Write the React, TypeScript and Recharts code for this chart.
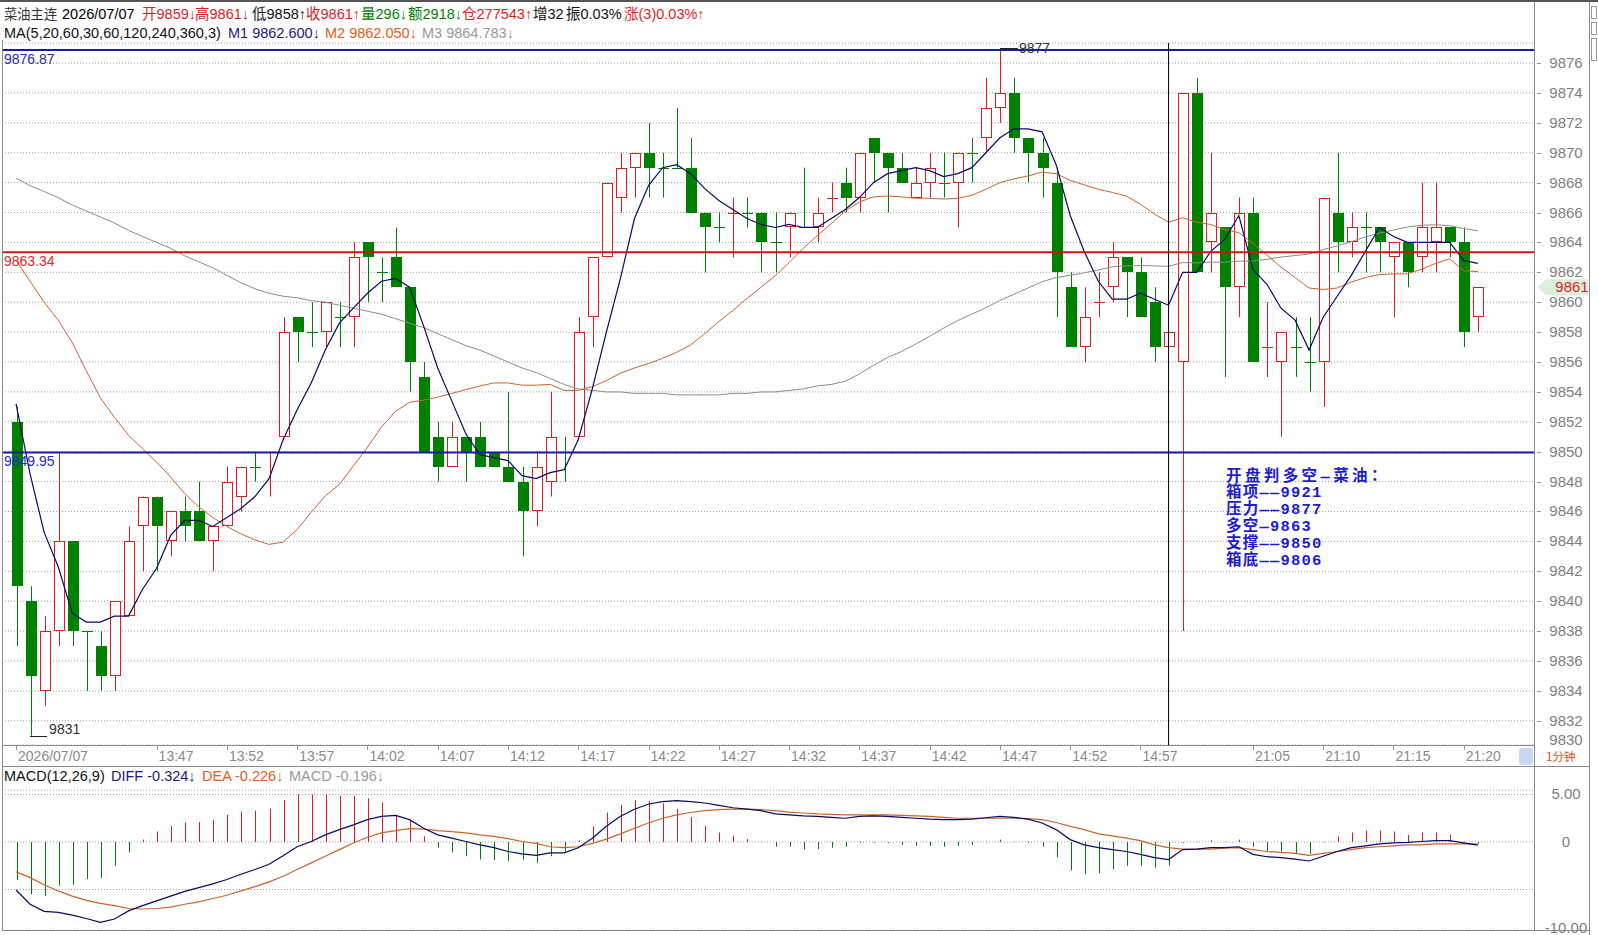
import React from 'react';
import {
  ComposedChart,
  Bar,
  Line,
  XAxis,
  YAxis,
  CartesianGrid,
  ReferenceLine,
  ReferenceDot,
} from 'recharts';

// ---------------- data ----------------
const times = [
  '13:37','13:38','13:39','13:40','13:41','13:42','13:43','13:44','13:45','13:46',
  '13:47','13:48','13:49','13:50','13:51','13:52','13:53','13:54','13:55','13:56',
  '13:57','13:58','13:59','14:00','14:01','14:02','14:03','14:04','14:05','14:06',
  '14:07','14:08','14:09','14:10','14:11','14:12','14:13','14:14','14:15','14:16',
  '14:17','14:18','14:19','14:20','14:21','14:22','14:23','14:24','14:25','14:26',
  '14:27','14:28','14:29','14:30','14:31','14:32','14:33','14:34','14:35','14:36',
  '14:37','14:38','14:39','14:40','14:41','14:42','14:43','14:44','14:45','14:46',
  '14:47','14:48','14:49','14:50','14:51','14:52','14:53','14:54','14:55','14:56',
  '14:57','14:58','14:59','15:00','21:01','21:02','21:03','21:04','21:05','21:06',
  '21:07','21:08','21:09','21:10','21:11','21:12','21:13','21:14','21:15','21:16',
  '21:17','21:18','21:19','21:20','21:21',
];

const opens = [
  9852,9840,9834,9838,9844,9838,9837,9835,9839,9845,
  9847,9844,9846,9846,9844,9845,9847,9849,9850,9851,
  9859,9858,9858,9859,9859,9864,9862,9863,9861,9855,
  9851,9849,9851,9851,9850,9849,9848,9846,9848,9850,
  9851,9859,9863,9867,9869,9870,9869,9869,9869,9866,
  9865,9866,9866,9866,9864,9865,9865,9865,9867,9868,
  9867,9871,9870,9869,9867,9868,9868,9868,9870,9871,
  9873,9874,9871,9870,9868,9861,9857,9860,9861,9863,
  9862,9860,9857,9856,9874,9864,9865,9861,9866,9857,
  9856,9857,9856,9856,9866,9864,9865,9865,9863,9864,
  9863,9864,9865,9864,9859,
];
const highs = [
  9853,9841,9839,9850,9844,9838,9838,9840,9845,9847,
  9847,9846,9847,9848,9845,9849,9849,9850,9850,9859,
  9859,9860,9860,9860,9864,9864,9863,9865,9861,9856,
  9852,9852,9851,9852,9850,9854,9849,9850,9854,9851,
  9859,9863,9868,9870,9870,9872,9870,9873,9871,9866,
  9866,9867,9867,9866,9866,9866,9869,9867,9868,9869,
  9870,9871,9870,9870,9869,9870,9870,9870,9871,9875,
  9877,9875,9871,9871,9869,9862,9861,9862,9864,9863,
  9863,9861,9858,9874,9875,9870,9865,9867,9867,9860,
  9858,9859,9859,9867,9870,9866,9866,9865,9864,9864,
  9868,9868,9865,9865,9861,
];
const lows = [
  9837,9831,9833,9837,9837,9834,9834,9834,9839,9842,
  9842,9843,9844,9844,9842,9845,9846,9848,9847,9851,
  9856,9857,9857,9857,9857,9860,9860,9861,9854,9850,
  9848,9849,9848,9849,9849,9848,9843,9845,9847,9848,
  9851,9857,9863,9866,9867,9867,9867,9869,9866,9862,
  9864,9863,9865,9862,9862,9863,9865,9864,9866,9866,
  9866,9868,9866,9868,9867,9867,9867,9865,9868,9870,
  9872,9870,9868,9867,9859,9857,9856,9859,9860,9859,
  9859,9856,9857,9838,9862,9862,9855,9859,9856,9855,
  9851,9855,9854,9853,9862,9863,9862,9862,9859,9861,
  9862,9862,9863,9857,9858,
];
const closes = [
  9841,9835,9838,9844,9838,9838,9835,9840,9844,9847,
  9845,9846,9845,9844,9845,9848,9849,9849,9850,9858,
  9858,9858,9860,9859,9863,9863,9862,9861,9856,9850,
  9849,9851,9850,9849,9849,9848,9846,9849,9851,9850,
  9858,9863,9868,9869,9870,9869,9869,9869,9866,9865,
  9865,9866,9866,9864,9864,9866,9865,9866,9867,9867,
  9870,9870,9869,9868,9868,9869,9868,9870,9870,9873,
  9874,9871,9870,9869,9862,9857,9859,9860,9863,9862,
  9859,9857,9858,9874,9862,9866,9861,9866,9856,9857,
  9858,9857,9856,9867,9864,9865,9865,9864,9864,9862,
  9865,9865,9864,9858,9861,
];

// M1 (MA5), M2 (MA20), M3 (MA60)
const ma5 = [
  9853.2,9848.5,9844.6,9842.3,9839.2,9838.6,9838.6,9839.0,9839.0,9840.8,
  9842.2,9844.4,9845.4,9845.4,9845.0,9845.6,9846.2,9847.0,9848.2,9850.8,
  9852.8,9854.6,9856.8,9858.6,9859.6,9860.6,9861.4,9861.6,9861.0,9858.4,
  9855.6,9853.4,9851.2,9849.8,9849.6,9849.4,9848.4,9848.2,9848.6,9848.8,
  9850.8,9854.2,9858.0,9861.6,9865.6,9867.8,9869.0,9869.2,9868.6,9867.6,
  9866.8,9866.2,9865.6,9865.2,9865.0,9865.2,9865.0,9865.0,9865.6,9866.2,
  9867.0,9868.0,9868.6,9868.8,9869.0,9868.8,9868.4,9868.6,9869.0,9870.0,
  9871.0,9871.6,9871.6,9871.4,9869.2,9865.8,9863.4,9861.4,9860.2,9860.2,
  9860.6,9860.2,9859.8,9862.0,9862.0,9863.4,9864.2,9865.8,9862.2,9861.2,
  9859.6,9858.8,9856.8,9859.0,9860.4,9861.8,9863.4,9865.0,9864.4,9864.0,
  9864.0,9864.0,9864.0,9862.8,9862.6,
];
const ma20 = [
  9862.8,9861.4,9860.0,9858.8,9857.3,9855.4,9853.6,9852.3,9851.1,9850.2,
  9849.3,9848.3,9847.2,9846.3,9845.6,9845.0,9844.5,9844.1,9843.8,9843.95,
  9844.8,9845.95,9847.05,9847.8,9849.05,9850.3,9851.65,9852.7,9853.3,9853.45,
  9853.65,9853.9,9854.15,9854.4,9854.6,9854.6,9854.45,9854.45,9854.5,9854.1,
  9854.1,9854.35,9854.75,9855.25,9855.6,9855.9,9856.25,9856.65,9857.15,9857.9,
  9858.7,9859.45,9860.25,9861.0,9861.75,9862.65,9863.6,9864.45,9865.25,9866.1,
  9866.7,9867.05,9867.1,9867.05,9866.95,9866.95,9866.9,9866.95,9867.15,9867.55,
  9868.0,9868.25,9868.45,9868.7,9868.6,9868.15,9867.85,9867.55,9867.35,9867.1,
  9866.55,9865.9,9865.35,9865.65,9865.35,9865.2,9864.85,9864.65,9863.95,9863.15,
  9862.35,9861.65,9860.95,9860.85,9860.95,9861.35,9861.65,9861.85,9861.9,9861.9,
  9862.2,9862.6,9862.9,9862.1,9862.05,
];
const ma60 = [
  9868.3,9867.8,9867.4,9867.0,9866.5,9866.1,9865.7,9865.3,9864.8,9864.4,
  9864.0,9863.6,9863.1,9862.7,9862.3,9861.8,9861.3,9860.9,9860.6,9860.4,
  9860.3,9860.1,9860.0,9859.8,9859.6,9859.4,9859.2,9858.9,9858.6,9858.3,
  9857.9,9857.5,9857.1,9856.8,9856.4,9856.0,9855.6,9855.3,9854.9,9854.5,
  9854.2,9854.1,9854.0,9854.0,9853.9,9853.9,9853.9,9853.8,9853.8,9853.8,
  9853.8,9853.9,9853.9,9854.0,9854.0,9854.1,9854.2,9854.4,9854.5,9854.72,
  9855.2,9855.78,9856.3,9856.7,9857.2,9857.72,9858.27,9858.77,9859.2,9859.63,
  9860.12,9860.53,9860.95,9861.37,9861.65,9861.8,9861.97,9862.15,9862.37,9862.43,
  9862.45,9862.43,9862.4,9862.65,9862.63,9862.68,9862.67,9862.75,9862.75,9862.87,
  9863.02,9863.12,9863.22,9863.52,9863.77,9864.05,9864.37,9864.62,9864.83,9865.03,
  9865.15,9865.18,9865.12,9864.93,9864.78,
];

// MACD(12,26,9)
const diffs = [
  -5.05,-6.55,-7.3,-7.4,-7.7,-8.05,-8.45,-8.1,-7.25,-6.7,
  -6.2,-5.7,-5.2,-4.8,-4.4,-3.95,-3.4,-2.9,-2.35,-1.45,
  -0.5,0.05,0.75,1.3,1.8,2.35,2.7,2.8,2.35,1.45,
  0.75,0.4,0.05,-0.3,-0.6,-1.0,-1.25,-1.4,-1.15,-1.15,
  -0.6,0.4,1.65,2.7,3.45,4.0,4.25,4.35,4.25,4.1,
  3.85,3.6,3.45,3.3,2.95,2.85,2.75,2.7,2.6,2.5,
  2.7,2.75,2.7,2.6,2.5,2.4,2.35,2.35,2.4,2.55,
  2.7,2.6,2.4,2.0,1.3,0.25,-0.3,-0.6,-0.8,-1.0,
  -1.3,-1.65,-1.85,-0.8,-0.75,-0.6,-0.6,-0.5,-1.3,-1.55,
  -1.65,-1.8,-2.0,-1.5,-1.0,-0.6,-0.4,-0.2,-0.1,-0.05,
  0.05,0.15,0.15,-0.1,-0.324,
];
const deas = [
  -3.15,-3.75,-4.5,-5.15,-5.7,-6.15,-6.45,-6.7,-7.0,-7.05,
  -7.0,-6.85,-6.55,-6.3,-5.95,-5.6,-5.15,-4.7,-4.2,-3.6,
  -2.9,-2.2,-1.5,-0.8,-0.1,0.5,0.95,1.2,1.4,1.35,
  1.2,1.1,0.95,0.75,0.6,0.35,0.05,-0.15,-0.5,-0.6,
  -0.5,-0.15,0.3,0.85,1.45,2.0,2.5,2.85,3.1,3.3,
  3.4,3.45,3.45,3.4,3.3,3.15,3.05,2.95,2.9,2.85,
  2.85,2.85,2.85,2.8,2.75,2.7,2.6,2.5,2.5,2.5,
  2.5,2.5,2.45,2.35,2.05,1.65,1.3,0.85,0.65,0.4,
  0.15,-0.3,-0.6,-0.75,-0.75,-0.75,-0.65,-0.6,-0.8,-1.0,
  -1.1,-1.2,-1.4,-1.2,-1.0,-0.8,-0.6,-0.5,-0.4,-0.3,
  -0.3,-0.2,-0.2,-0.2,-0.226,
];
const macdHist = [
  -4.0,-5.5,-5.7,-4.6,-4.5,-3.9,-3.8,-2.5,-1.1,0.25,
  1.1,1.7,2.05,2.1,2.3,2.85,3.2,3.3,3.5,4.4,
  5.0,5.0,5.0,4.85,4.85,4.6,4.15,2.85,2.3,0.6,
  -0.6,-1.1,-1.5,-1.85,-1.9,-2.0,-1.85,-2.2,-1.5,-1.0,
  0.17,1.65,3.1,3.9,4.4,4.3,4.05,3.5,2.65,1.7,
  1.0,0.66,0.3,0.05,-0.5,-0.5,-0.8,-0.75,-0.6,-0.5,
  -0.1,-0.1,-0.1,-0.3,-0.4,-0.4,-0.5,-0.4,-0.3,0.05,
  0.25,0.05,-0.1,-0.5,-1.6,-3.0,-3.4,-3.3,-2.9,-2.5,
  -2.5,-2.7,-2.5,-0.1,0.05,0.17,0.05,0.25,-0.5,-1.0,
  -1.0,-1.15,-1.25,0.05,0.6,1.0,1.2,1.2,1.1,0.75,
  1.0,1.0,0.75,0.05,-0.196,
];

const timeTickIdx = [0, 10, 15, 20, 25, 30, 35, 40, 45, 50, 55, 60, 65, 70, 75, 80, 88, 93, 98, 103];
const timeTickLabels = [
  '2026/07/07', '13:47', '13:52', '13:57', '14:02', '14:07', '14:12', '14:17', '14:22', '14:27',
  '14:32', '14:37', '14:42', '14:47', '14:52', '14:57', '21:05', '21:10', '21:15', '21:20',
];
const priceTicks = [
  9832, 9834, 9836, 9838, 9840, 9842, 9844, 9846, 9848, 9850, 9852, 9854,
  9856, 9858, 9860, 9862, 9864, 9866, 9868, 9870, 9872, 9874, 9876,
];
const macdTicks = [-5, 0, 5];

const noteLines = ['开盘判多空—菜油：', '箱项——9921', '压力——9877', '多空—9863', '支撑——9850', '箱底——9806'];

const data = times.map((t, i) => ({
  i,
  t,
  o: opens[i],
  h: highs[i],
  l: lows[i],
  c: closes[i],
  pc: i > 0 ? closes[i - 1] : opens[i],
  range: [lows[i], highs[i]],
  m1: ma5[i],
  m2: ma20[i],
  m3: ma60[i],
  dif: diffs[i],
  dea: deas[i],
  hist: macdHist[i],
}));

// ---------------- style ----------------
const FONT = "'Liberation Sans', Arial, 'Noto Sans CJK SC', sans-serif";
const RED = '#dc1e1e';
const GREEN = '#008000';
const NAVY = '#0a0a64';
const ORANGE = '#cc6430';
const GRAY = '#8c8c8c';
const AXIS_TXT = '#808080';

const Candle = (props: any) => {
  const { x, y, width, height, payload } = props;
  if (!payload || x == null || y == null) return null;
  const cx = Math.round(x + width / 2);
  const top = Math.min(y, y + height);
  const bot = Math.max(y, y + height);
  const { o, h, l, c, pc } = payload;
  const span = h - l;
  const ppu = span > 0 ? (bot - top) / span : 0;
  const yOf = (v: number) => top + (h - v) * ppu;
  const up = c > o || (c === o && c > pc);
  const col = up ? RED : GREEN;
  const bt = Math.round(yOf(Math.max(o, c)));
  const bb = Math.round(yOf(Math.min(o, c)));
  const wx = cx + 0.5;
  if (o === c) {
    return (
      <g>
        <line x1={wx} x2={wx} y1={top} y2={bot} stroke={col} strokeWidth={1} />
        <line x1={cx - 5} x2={cx + 6} y1={bt + 0.5} y2={bt + 0.5} stroke={col} strokeWidth={1} />
      </g>
    );
  }
  if (up) {
    return (
      <g>
        <line x1={wx} x2={wx} y1={top} y2={bt} stroke={col} strokeWidth={1} />
        <line x1={wx} x2={wx} y1={bb} y2={bot} stroke={col} strokeWidth={1} />
        <rect x={cx - 4.5} y={bt + 0.5} width={10} height={Math.max(bb - bt - 1, 0)} fill="#fff" stroke={col} strokeWidth={1} />
      </g>
    );
  }
  return (
    <g>
      <line x1={wx} x2={wx} y1={top} y2={bot} stroke={col} strokeWidth={1} />
      <rect x={cx - 5} y={bt} width={11} height={Math.max(bb - bt, 1)} fill={col} />
    </g>
  );
};

const HistBar = (props: any) => {
  const { x, y, width, height, payload } = props;
  if (!payload || x == null || y == null) return null;
  const cx = Math.round(x + width / 2) + 0.5;
  const top = Math.min(y, y + height);
  const bot = Math.max(y, y + height);
  return <line x1={cx} x2={cx} y1={top} y2={bot} stroke={payload.hist >= 0 ? RED : GREEN} strokeWidth={1} />;
};

const TimeTick = (props: any) => {
  const { x, y, payload } = props;
  const k = timeTickIdx.indexOf(payload.value);
  const label = k >= 0 ? timeTickLabels[k] : '';
  return (
    <g>
      <line x1={Math.round(x) + 0.5} x2={Math.round(x) + 0.5} y1={y} y2={y + 5} stroke="#999" />
      <text x={x + 2} y={y + 16} fontSize={14} fill="#8a8a8a" fontFamily={FONT} textAnchor="start">
        {label}
      </text>
    </g>
  );
};

const PriceTick = (props: any) => {
  const { x, y, payload } = props;
  return (
    <g>
      <line x1={x + 3} x2={x + 7} y1={Math.round(y) + 0.5} y2={Math.round(y) + 0.5} stroke="#999" />
      <text x={x + 32} y={y + 5} fontSize={15} fill={AXIS_TXT} fontFamily={FONT} textAnchor="middle">
        {payload.value}
      </text>
      {payload.value === 9832 ? (
        <text x={x + 32} y={y + 24} fontSize={15} fill={AXIS_TXT} fontFamily={FONT} textAnchor="middle">
          9830
        </text>
      ) : null}
    </g>
  );
};

const MacdTick = (props: any) => {
  const { x, y, payload } = props;
  const v = payload.value;
  return (
    <g>
      {v === 5 ? (
        <text x={x + 32} y={y + 5} fontSize={15} fill={AXIS_TXT} fontFamily={FONT} textAnchor="middle">5.00</text>
      ) : null}
      {v === 0 ? (
        <text x={x + 32} y={y + 5} fontSize={15} fill={AXIS_TXT} fontFamily={FONT} textAnchor="middle">0</text>
      ) : null}
      {v === -5 ? (
        <text x={x + 32} y={y + 43} fontSize={15} fill={AXIS_TXT} fontFamily={FONT} textAnchor="middle">-10.00</text>
      ) : null}
    </g>
  );
};

const RefLabel = (props: any) => {
  const { viewBox, text, color } = props;
  if (!viewBox) return null;
  return (
    <text x={viewBox.x + 2} y={viewBox.y + 14} fontSize={14} fill={color} fontFamily={FONT}>
      {text}
    </text>
  );
};

const PriceTag = (props: any) => {
  const { viewBox, text } = props;
  if (!viewBox) return null;
  const xr = viewBox.x + viewBox.width;
  const y = viewBox.y;
  const pts = `${xr + 3},${y} ${xr + 12},${y - 8} ${xr + 54},${y - 8} ${xr + 54},${y + 8} ${xr + 12},${y + 8}`;
  return (
    <g>
      <polygon points={pts} fill="#dcefdc" />
      <text x={xr + 38} y={y + 5} fontSize={15} fill={RED} fontFamily={FONT} textAnchor="middle">
        {text}
      </text>
    </g>
  );
};

const HighMark = (props: any) => {
  const { cx, cy } = props;
  if (cx == null || cy == null) return null;
  const yy = Math.round(cy) + 0.5;
  return (
    <g>
      <line x1={cx} x2={cx + 18} y1={yy} y2={yy} stroke="#222" />
      <text x={cx + 19} y={cy + 5} fontSize={14} fill="#333" fontFamily={FONT}>9877</text>
    </g>
  );
};

const LowMark = (props: any) => {
  const { cx, cy } = props;
  if (cx == null || cy == null) return null;
  const yy = Math.round(cy) + 0.5;
  return (
    <g>
      <line x1={cx} x2={cx + 17} y1={yy} y2={yy} stroke="#222" />
      <text x={cx + 19} y={cy - 2} fontSize={14} fill="#333" fontFamily={FONT}>9831</text>
    </g>
  );
};

const Seg = ({ x, top, color, size, children }: any) => (
  <div style={{ position: 'absolute', left: x, top, color, fontSize: size || 14.5, lineHeight: '19px', whiteSpace: 'nowrap', fontFamily: FONT }}>
    {children}
  </div>
);

export default function App() {
  return (
    <div style={{ position: 'absolute', left: 0, top: 0, width: 1598, height: 935, background: '#fff', overflow: 'hidden', fontFamily: FONT }}>
      {/* main price chart */}
      <div style={{ position: 'absolute', left: 0, top: 0 }}>
        <ComposedChart width={1598} height={770} data={data} margin={{ top: 43, right: 0, bottom: 4, left: 2 }}>
          <CartesianGrid horizontal vertical={false} stroke="#a0a0a0" strokeDasharray="1 2" />
          <XAxis
            dataKey="i"
            type="number"
            domain={[-1, 108]}
            allowDataOverflow
            ticks={timeTickIdx}
            interval={0}
            tick={<TimeTick />}
            tickLine={false}
            axisLine={false}
            tickSize={0}
            tickMargin={0}
            height={21}
          />
          <YAxis
            orientation="right"
            type="number"
            domain={[9830.38, 9877.34]}
            allowDataOverflow
            ticks={priceTicks}
            interval={0}
            tick={<PriceTick />}
            tickLine={false}
            axisLine={false}
            tickSize={0}
            tickMargin={0}
            width={64}
          />
          <Bar dataKey="range" barSize={11} shape={(p: any) => <Candle {...p} />} isAnimationActive={false} />
          <Line dataKey="m3" type="linear" stroke={GRAY} strokeWidth={1} dot={false} activeDot={false} isAnimationActive={false} />
          <Line dataKey="m2" type="linear" stroke={ORANGE} strokeWidth={1} dot={false} activeDot={false} isAnimationActive={false} />
          <Line dataKey="m1" type="linear" stroke={NAVY} strokeWidth={1.2} dot={false} activeDot={false} isAnimationActive={false} />
          <ReferenceLine y={9876.87} stroke="#1a1aa0" strokeWidth={2} label={<RefLabel text="9876.87" color="#2a2ac0" />} />
          <ReferenceLine y={9863.34} stroke="#cc1414" strokeWidth={2} label={<RefLabel text="9863.34" color="#e02828" />} />
          <ReferenceLine y={9849.95} stroke="#1a1aa0" strokeWidth={2} label={<RefLabel text="9849.95" color="#2a2ac0" />} />
          <ReferenceLine x={82} stroke="#000" strokeWidth={1} />
          <ReferenceLine y={9861} stroke="none" label={<PriceTag text="9861" />} />
          <ReferenceDot x={70} y={9877} r={0} shape={(p: any) => <HighMark {...p} />} />
          <ReferenceDot x={1} y={9831} r={0} shape={(p: any) => <LowMark {...p} />} />
        </ComposedChart>
      </div>

      {/* MACD chart */}
      <div style={{ position: 'absolute', left: 0, top: 766 }}>
        <ComposedChart width={1598} height={169} data={data} margin={{ top: 24, right: 0, bottom: 5, left: 2 }}>
          <CartesianGrid horizontal vertical={false} stroke="#a0a0a0" strokeDasharray="1 2" />
          <XAxis dataKey="i" type="number" domain={[-1, 108]} allowDataOverflow hide />
          <YAxis
            orientation="right"
            type="number"
            domain={[-9.26, 5.47]}
            allowDataOverflow
            ticks={macdTicks}
            interval={0}
            tick={<MacdTick />}
            tickLine={false}
            axisLine={false}
            tickSize={0}
            tickMargin={0}
            width={64}
          />
          <Bar dataKey="hist" barSize={1} shape={(p: any) => <HistBar {...p} />} isAnimationActive={false} />
          <Line dataKey="dea" type="linear" stroke={ORANGE} strokeWidth={1.2} dot={false} activeDot={false} isAnimationActive={false} />
          <Line dataKey="dif" type="linear" stroke={NAVY} strokeWidth={1.2} dot={false} activeDot={false} isAnimationActive={false} />
        </ComposedChart>
      </div>

      {/* header line 1 */}
      <Seg x={4} top={5} color="#333" size={13.3}>菜油主连</Seg>
      <Seg x={62} top={5} color="#000">2026/07/07</Seg>
      <Seg x={142} top={5} color={RED}>开9859↓</Seg>
      <Seg x={195} top={5} color={RED}>高9861↓</Seg>
      <Seg x={252} top={5} color="#111">低9858↑</Seg>
      <Seg x={306} top={5} color={RED}>收9861↑</Seg>
      <Seg x={361} top={5} color={GREEN}>量296↓</Seg>
      <Seg x={408} top={5} color={GREEN}>额2918↓</Seg>
      <Seg x={462} top={5} color={RED}>仓277543↑</Seg>
      <Seg x={533} top={5} color="#111">增32</Seg>
      <Seg x={566} top={5} color="#111">振0.03%</Seg>
      <Seg x={624} top={5} color={RED}>涨(3)0.03%↑</Seg>

      {/* header line 2 */}
      <Seg x={4} top={24} color="#111">MA(5,20,60,30,60,120,240,360,3)</Seg>
      <Seg x={228} top={24} color="#1a1a80">M1 9862.600↓</Seg>
      <Seg x={325} top={24} color="#e06020">M2 9862.050↓</Seg>
      <Seg x={422} top={24} color="#999">M3 9864.783↓</Seg>

      {/* MACD header */}
      <Seg x={4} top={767} color="#111">MACD(12,26,9)</Seg>
      <Seg x={111} top={767} color="#1a1a80">DIFF -0.324↓</Seg>
      <Seg x={202} top={767} color="#e06020">DEA -0.226↓</Seg>
      <Seg x={289} top={767} color="#999">MACD -0.196↓</Seg>

      {/* annotation block */}
      {noteLines.map((t, k) => (
        <div
          key={k}
          style={{
            position: 'absolute',
            left: 1226,
            top: 468.5 + k * 16.9,
            height: 16.9,
            lineHeight: '16.9px',
            whiteSpace: 'nowrap',
            color: '#1c1cd0',
            fontFamily: "'Liberation Mono', 'Noto Sans CJK SC', monospace",
            fontSize: 15.5,
            letterSpacing: k === 0 ? 3.4 : 1.2,
            fontWeight: 700,
          }}
        >
          {t}
        </div>
      ))}

      {/* 1分钟 */}
      <div style={{ position: 'absolute', left: 1519, top: 748, width: 14, height: 17, background: '#c5d9f1', borderRadius: 3 }} />
      <div style={{ position: 'absolute', left: 1546, top: 747, fontSize: 11.5, lineHeight: '18px', color: '#e04a10', fontFamily: "'Noto Sans CJK SC', sans-serif", whiteSpace: 'nowrap' }}>
        1分钟
      </div>

      {/* frame */}
      <svg width={1598} height={935} style={{ position: 'absolute', left: 0, top: 0, pointerEvents: 'none' }}>
        <rect x={0} y={0} width={1598} height={2} fill="#555" />
        <line x1={2.5} x2={2.5} y1={40} y2={931} stroke="#8a8a8a" />
        <line x1={1534.5} x2={1534.5} y1={2} y2={931} stroke="#8a8a8a" />
        <line x1={1589.5} x2={1589.5} y1={2} y2={935} stroke="#8a8a8a" />
        <line x1={2} x2={1534} y1={745.5} y2={745.5} stroke="#8a8a8a" />
        <line x1={2} x2={1589} y1={766.5} y2={766.5} stroke="#8a8a8a" />
        <line x1={2} x2={1589} y1={930.5} y2={930.5} stroke="#8a8a8a" />
        <rect x={1591.5} y={6.5} width={5} height={12} fill="none" stroke="#999" />
        <rect x={1591.5} y={22.5} width={5} height={12} fill="none" stroke="#999" />
        <rect x={1591.5} y={38.5} width={5} height={22} fill="none" stroke="#999" />
      </svg>
    </div>
  );
}
